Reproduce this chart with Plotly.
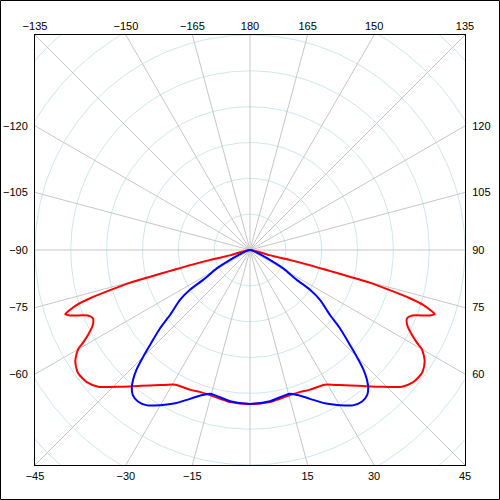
"""
Polar intensity diagram (two C-planes), drawn on a square cartesian frame.
Angle 0 points down, positive angles turn to the right, 180 is up.
"""
import numpy as np
import plotly.graph_objects as go

# intensity, right half (left half is the mirror image)
red_angles = [0, 7.5, 15.5, 19.5, 23, 29, 33.5, 36.5, 40.5, 43.5, 48, 51, 54.5,
              57.5, 60, 61, 62.5, 64.5, 66.5, 68, 70, 70.8, 71.6, 72.4, 73.2,
              74, 74.7, 75, 75.3, 75.8, 76, 75, 90]
red_values = [215, 214, 210, 210, 212, 215, 226, 235, 250, 263, 285, 293, 295,
              289, 277, 266, 254, 243, 239, 244, 267, 273, 265, 254, 233,
              203, 174, 144, 115, 86, 57, 29, 0]

blue_angles = [0, 7.5, 15.5, 19, 22, 26, 30, 33.5, 36.5, 39, 40.5, 42, 43.5, 45,
               46.5, 49, 51, 54.5, 56.5, 57.5, 61, 63.5, 67, 90]
blue_values = [215, 213, 208, 215, 224, 238, 250, 260, 263, 260, 254, 244, 230,
               211, 192, 166, 143, 120, 100, 77, 53, 31, 15, 0]

ring_radii = [50, 100, 150, 200, 250, 300, 350, 400]
ray_angles = list(range(0, 360, 15))

bottom_labels = [-45, -30, -15, 15, 30, 45]
top_labels = [-135, -150, -165, 180, 165, 150, 135]
left_labels = [-120, -105, -90, -75, -60]
right_labels = [120, 105, 90, 75, 60]

HALF = 300  # half side of the square frame, data units
RED = "#ff0000"
BLUE = "#0000ff"
RING_COLOR = "#cfe6ee"
RAY_COLOR = "#c6c6c6"
FONT = dict(family="Liberation Sans, Arial, sans-serif", size=11, color="black")


def to_xy(angles, values):
    a = np.radians(np.asarray(angles, dtype=float))
    r = np.asarray(values, dtype=float)
    return r * np.sin(a), -r * np.cos(a)


def mirrored(angles, values):
    a = [-v for v in angles[::-1]] + list(angles[1:])
    r = list(values[::-1]) + list(values[1:])
    return a, r


def fmt(v):
    return str(v).replace("-", "\u2212")


fig = go.Figure()

# rings
t = np.linspace(0, 2 * np.pi, 361)
for rr in ring_radii:
    fig.add_trace(go.Scatter(
        x=rr * np.cos(t), y=rr * np.sin(t), mode="lines",
        line=dict(color=RING_COLOR, width=1), hoverinfo="skip", showlegend=False,
    ))

# rays
for a in ray_angles:
    rx, ry = to_xy([a, a], [0, 2 * HALF])
    fig.add_trace(go.Scatter(
        x=rx, y=ry, mode="lines",
        line=dict(color=RAY_COLOR, width=1), hoverinfo="skip", showlegend=False,
    ))

for angles, values, color in [(red_angles, red_values, RED),
                              (blue_angles, blue_values, BLUE)]:
    a, r = mirrored(angles, values)
    x, y = to_xy(a, r)
    fig.add_trace(go.Scatter(
        x=x, y=y, mode="lines",
        line=dict(color=color, width=2, shape="spline", smoothing=0.7),
        showlegend=False,
    ))

# dummy trace so the top/right axes get drawn
fig.add_trace(go.Scatter(x=[None], y=[None], xaxis="x2", yaxis="y2",
                         showlegend=False, hoverinfo="skip"))

bx = [HALF * np.tan(np.radians(a)) for a in bottom_labels]
tx = [-HALF * np.tan(np.radians(a)) for a in top_labels]
ly = [HALF / np.tan(np.radians(a)) for a in left_labels]
ry_ = [-HALF / np.tan(np.radians(a)) for a in right_labels]

axis_common = dict(
    range=[-HALF, HALF], showgrid=False, zeroline=False, showline=True,
    linecolor="black", linewidth=1, ticks="", tickfont=FONT, fixedrange=True,
    automargin=False,
)

fig.update_layout(
    width=500, height=500,
    margin=dict(l=35, r=35, t=35, b=35, autoexpand=False),
    paper_bgcolor="white", plot_bgcolor="white",
    xaxis=dict(axis_common, tickmode="array", tickvals=bx,
               ticktext=[fmt(v) for v in bottom_labels], ticklabelstandoff=1),
    yaxis=dict(axis_common, tickmode="array", tickvals=ly,
               ticktext=[fmt(v) for v in left_labels], ticklabelstandoff=4),
    xaxis2=dict(axis_common, overlaying="x", side="top", matches="x",
                tickmode="array", tickvals=tx,
                ticktext=[fmt(v) for v in top_labels], ticklabelstandoff=0),
    yaxis2=dict(axis_common, overlaying="y", side="right", matches="y",
                tickmode="array", tickvals=ry_,
                ticktext=[fmt(v) for v in right_labels], ticklabelstandoff=4),
    shapes=[dict(type="rect", xref="paper", yref="paper",
                 x0=(0.5 - 35) / 430, x1=(499.5 - 35) / 430,
                 y0=(0.5 - 35) / 430, y1=(499.5 - 35) / 430,
                 line=dict(color="black", width=1))],
)

fig.write_html("out.html", config={"displayModeBar": False},
               post_script="document.body.style.margin='0';")
